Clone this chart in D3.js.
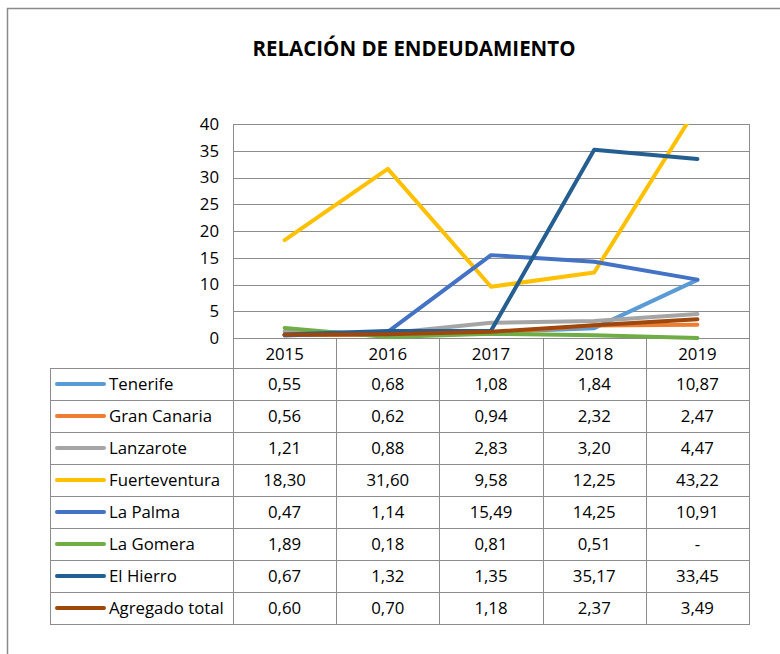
<!doctype html>
<html>
  <head>
    <meta charset="utf-8">
    <script src="https://cdn.jsdelivr.net/npm/d3@7"></script>
    <style>
      body { margin: 0; background: #fff; }
      svg text { font-family: "Open Sans", Lato, sans-serif; fill: #000; }
    </style>
  </head>
  <body>
    <svg width="780" height="654"></svg>
  <script>
    // data
    let years = ["2015", "2016", "2017", "2018", "2019"]
    let islands = ["Tenerife", "Gran Canaria", "Lanzarote", "Fuerteventura", "La Palma", "La Gomera", "El Hierro", "Agregado total"]
    let tenerife      = [0.55, 0.68, 1.08, 1.84, 10.87]
    let granCanaria   = [0.56, 0.62, 0.94, 2.32, 2.47]
    let lanzarote     = [1.21, 0.88, 2.83, 3.20, 4.47]
    let fuerteventura = [18.30, 31.60, 9.58, 12.25, 43.22]
    let laPalma       = [0.47, 1.14, 15.49, 14.25, 10.91]
    let laGomera      = [1.89, 0.18, 0.81, 0.51, null]
    let elHierro      = [0.67, 1.32, 1.35, 35.17, 33.45]
    let agregado      = [0.60, 0.70, 1.18, 2.37, 3.49]
    let yTicks = [0, 5, 10, 15, 20, 25, 30, 35, 40]
    let colors = ["#5B9BD5", "#ED7D31", "#A5A5A5", "#FFC000", "#4472C4", "#70AD47", "#255E91", "#9E480E"]

    let series = [tenerife, granCanaria, lanzarote, fuerteventura, laPalma, laGomera, elHierro, agregado]

    let svg = d3.select("svg")
    let gridColor = "#8c8c8c"
    let fs = "16.8px"

    // outer chart border (cut by the picture on right and bottom)
    svg.append("path")
      .attr("d", "M7.5,654 V8.5 H780")
      .attr("fill", "none")
      .attr("stroke", "#8a8a8a")
      .attr("stroke-width", 1.5)

    svg.append("text")
      .attr("x", 414).attr("y", 56)
      .attr("text-anchor", "middle")
      .style("font-size", "20.5px").style("font-weight", "bold")
      .text("RELACIÓN DE ENDEUDAMIENTO")

    let plotLeft = 233, plotRight = 749, plotTop = 124, zero = 338
    let tableLeft = 50, rowTop = 368, rowH = 32

    let x = d3.scaleBand().domain(years).range([plotLeft, plotRight])
    let y = d3.scaleLinear().domain([0, 40]).range([zero, plotTop])

    // horizontal gridlines
    svg.append("g").selectAll("line")
      .data(yTicks)
      .enter().append("line")
        .attr("x1", plotLeft).attr("x2", plotRight)
        .attr("y1", d => Math.round(y(d)) + 0.5).attr("y2", d => Math.round(y(d)) + 0.5)
        .attr("stroke", gridColor)

    // y tick labels
    svg.append("g").selectAll("text")
      .data(yTicks)
      .enter().append("text")
        .attr("x", 219).attr("y", d => y(d))
        .attr("dy", "0.35em")
        .attr("text-anchor", "end")
        .style("font-size", fs)
        .text(d => d)

    // table frame
    let tableBottom = rowTop + rowH * islands.length
    let g = svg.append("g").attr("stroke", gridColor).attr("fill", "none")
    g.append("line").attr("x1", plotLeft + 0.5).attr("x2", plotLeft + 0.5).attr("y1", plotTop).attr("y2", tableBottom)
    g.append("line").attr("x1", plotRight + 0.5).attr("x2", plotRight + 0.5).attr("y1", plotTop).attr("y2", tableBottom)
    g.selectAll(".vcat")
      .data(years.slice(1))
      .enter().append("line")
        .attr("x1", d => Math.round(x(d)) + 0.5).attr("x2", d => Math.round(x(d)) + 0.5)
        .attr("y1", zero).attr("y2", tableBottom)
    g.append("line").attr("x1", tableLeft + 0.5).attr("x2", tableLeft + 0.5).attr("y1", rowTop).attr("y2", tableBottom)
    g.selectAll(".hrow")
      .data(d3.range(islands.length + 1))
      .enter().append("line")
        .attr("x1", tableLeft).attr("x2", plotRight + 1)
        .attr("y1", i => rowTop + i * rowH + 0.5).attr("y2", i => rowTop + i * rowH + 0.5)

    // x category labels
    svg.append("g").selectAll("text")
      .data(years)
      .enter().append("text")
        .attr("x", d => x(d) + x.bandwidth() / 2)
        .attr("y", (zero + rowTop) / 2 + 1)
        .attr("dy", "0.35em")
        .attr("text-anchor", "middle")
        .style("font-size", fs)
        .text(d => d)

    // lines
    svg.append("clipPath").attr("id", "plot")
      .append("rect").attr("x", plotLeft).attr("y", plotTop).attr("width", plotRight - plotLeft).attr("height", zero - plotTop + 3)

    let line = d3.line()
      .x((d, i) => x(years[i]) + x.bandwidth() / 2)
      .y(d => y(d === null ? 0 : d))

    svg.append("g").attr("clip-path", "url(#plot)")
      .selectAll("path")
      .data(series)
      .enter().append("path")
        .attr("d", line)
        .attr("fill", "none")
        .attr("stroke", (d, i) => colors[i])
        .attr("stroke-width", 4)
        .attr("stroke-linejoin", "round")
        .attr("stroke-linecap", "round")

    // table rows
    let fmt = v => v === null ? "-" : d3.format(".2f")(v).replace(".", ",")
    let rows = svg.append("g").selectAll("g")
      .data(series)
      .enter().append("g")
        .attr("transform", (d, i) => "translate(0," + (rowTop + i * rowH + rowH / 2) + ")")

    rows.append("line")
      .attr("x1", 57).attr("x2", 104)
      .attr("stroke", (d, i) => colors[i])
      .attr("stroke-width", 4)
      .attr("stroke-linecap", "round")

    rows.append("text")
      .attr("x", 109).attr("dy", "0.35em")
      .style("font-size", fs)
      .text((d, i) => islands[i])

    rows.selectAll(".val")
      .data(d => d)
      .enter().append("text")
        .attr("x", (v, i) => x(years[i]) + x.bandwidth() / 2)
        .attr("dy", "0.35em")
        .attr("text-anchor", "middle")
        .style("font-size", fs)
        .text(fmt)
  </script>
  </body>
</html>
